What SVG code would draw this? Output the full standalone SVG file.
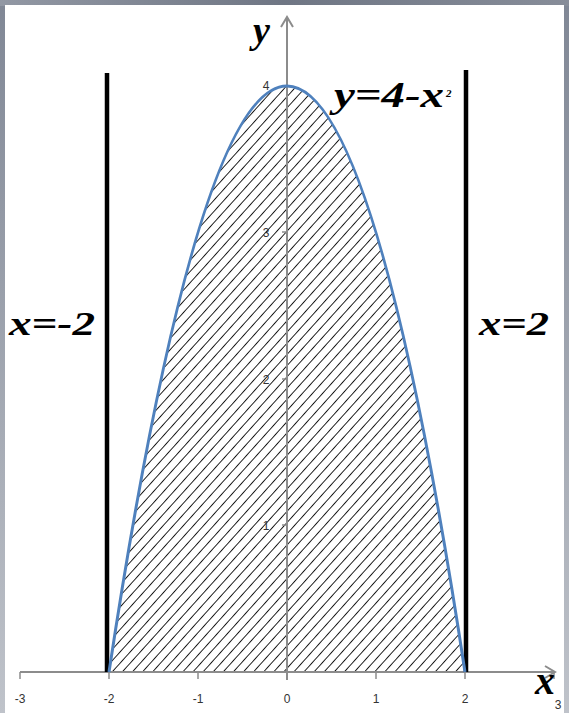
<svg xmlns="http://www.w3.org/2000/svg" width="569" height="713" viewBox="0 0 569 713">
<defs>
<linearGradient id="frame" x1="0" y1="0" x2="1" y2="0">
<stop offset="0" stop-color="#9298a4"/>
<stop offset="0.5" stop-color="#6f7684"/>
<stop offset="1" stop-color="#878d99"/>
</linearGradient>
<linearGradient id="side" x1="0" y1="0" x2="0" y2="1">
<stop offset="0" stop-color="#808795"/>
<stop offset="1" stop-color="#bfc3ca"/>
</linearGradient>
<pattern id="hatch" patternUnits="userSpaceOnUse" width="7.5" height="7.5" patternTransform="rotate(42)">
<line x1="0" y1="0" x2="0" y2="7.5" stroke="#151515" stroke-width="1.9"/>
</pattern>
<clipPath id="parab">
<path d="M109,672 Q287,-500 465,672 Z"/>
</clipPath>
<marker id="arr" markerWidth="14" markerHeight="14" refX="11" refY="7" orient="auto" markerUnits="userSpaceOnUse">
<path d="M1,1 L11,7 L1,13" fill="none" stroke="#8c8c8c" stroke-width="2"/>
</marker>
</defs>
<style>
.axis{stroke:#8c8c8c;stroke-width:2;fill:none}
.tick{stroke:#8c8c8c;stroke-width:1.5}
.tl{font-family:"Liberation Sans",Arial,sans-serif;font-size:12px;fill:#333}
.big{font-family:"Liberation Serif","Times New Roman",serif;font-weight:bold;font-style:italic;fill:#000}
.vline{stroke:#000;stroke-width:4.5}
</style>
<rect x="0" y="0" width="569" height="713" fill="url(#side)"/>
<rect x="0" y="0" width="569" height="6" fill="url(#frame)"/>
<rect x="5" y="5" width="559" height="708" fill="#ffffff"/>

<g id="region">
<rect x="100" y="80" width="380" height="600" fill="url(#hatch)" clip-path="url(#parab)"/>
</g>

<g id="connectors">
<line class="axis" x1="20" y1="672" x2="555" y2="672" marker-end="url(#arr)"/>
<line class="axis" x1="287" y1="680" x2="287" y2="17" marker-end="url(#arr)"/>
<g class="tick">
<line x1="20" y1="672" x2="20" y2="679"/>
<line x1="109" y1="672" x2="109" y2="679"/>
<line x1="198" y1="672" x2="198" y2="679"/>
<line x1="376" y1="672" x2="376" y2="679"/>
<line x1="465" y1="672" x2="465" y2="679"/>
<line x1="554" y1="672" x2="554" y2="679"/>
<line x1="282" y1="86" x2="287" y2="86"/>
<line x1="282" y1="232" x2="287" y2="232"/>
<line x1="282" y1="379" x2="287" y2="379"/>
<line x1="282" y1="525" x2="287" y2="525"/>
</g>
</g>

<g id="line-left"><line class="vline" x1="107" y1="73" x2="107" y2="672"/></g>
<g id="line-right"><line class="vline" x1="466" y1="70" x2="466" y2="672"/></g>

<g id="curve">
<path d="M109,672 Q287,-500 465,672" fill="none" stroke="#4f81bd" stroke-width="3"/>
</g>

<g id="tick-labels">
<text class="tl" x="20" y="703" text-anchor="middle">-3</text>
<text class="tl" x="109" y="703" text-anchor="middle">-2</text>
<text class="tl" x="198" y="703" text-anchor="middle">-1</text>
<text class="tl" x="287" y="703" text-anchor="middle">0</text>
<text class="tl" x="376" y="703" text-anchor="middle">1</text>
<text class="tl" x="465" y="703" text-anchor="middle">2</text>
<text class="tl" x="558" y="709" text-anchor="middle">3</text>
<text class="tl" x="266" y="90" text-anchor="middle">4</text>
<text class="tl" x="266" y="237" text-anchor="middle">3</text>
<text class="tl" x="266" y="384" text-anchor="middle">2</text>
<text class="tl" x="266" y="530" text-anchor="middle">1</text>
</g>

<g id="labels">
<text class="big" x="253" y="43" font-size="38">y</text>
<text class="big" x="334" y="107" font-size="36" textLength="110" lengthAdjust="spacingAndGlyphs">y=4-x</text>
<text class="big" x="446" y="97" font-size="11">2</text>
<text class="big" x="9" y="335" font-size="34" textLength="86" lengthAdjust="spacingAndGlyphs">x=-2</text>
<text class="big" x="479" y="335" font-size="34" textLength="70" lengthAdjust="spacingAndGlyphs">x=2</text>
<text class="big" x="535" y="694" font-size="40">x</text>
</g>
</svg>
